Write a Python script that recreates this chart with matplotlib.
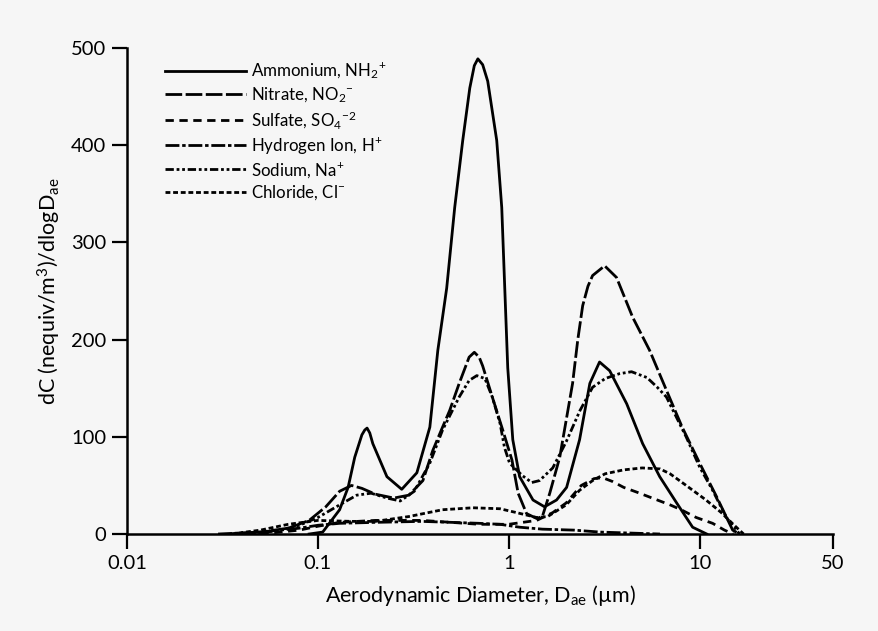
import numpy as np
import matplotlib
matplotlib.use("Agg")
from matplotlib import pyplot as plt

plt.rcParams['font.family'] = ['Lato', 'DejaVu Sans']
plt.rcParams['mathtext.fontset'] = 'custom'
plt.rcParams['mathtext.rm'] = 'Lato'
plt.rcParams['mathtext.default'] = 'regular'
plt.rcParams['lines.scale_dashes'] = False

# values: aerodynamic diameter (um) and dC/dlogDae
nh4_x = [0.09, 0.106, 0.130, 0.144, 0.156, 0.170, 0.176, 0.181, 0.187, 0.194, 0.230, 0.275, 0.330,
         0.386, 0.425, 0.473, 0.521, 0.574, 0.625, 0.660, 0.689, 0.730, 0.776, 0.865, 0.919, 0.953,
         0.988, 1.05, 1.14, 1.34, 1.54, 1.78, 2.01, 2.35, 2.66, 2.99, 3.38, 4.15, 5.03, 6.18, 7.58,
         9.19, 10.9]
nh4_y = [0, 2, 25, 48, 79, 102, 107, 109, 104, 93, 59, 46, 63,
         110, 189, 253, 336, 405, 459, 482, 489, 483, 466, 405, 336, 253,
         171, 97, 59, 35, 28, 35, 48, 97, 155, 177, 168, 134, 93, 59, 32,
         7, 0]

no3_x = [0.035, 0.05, 0.07, 0.09, 0.11, 0.13, 0.15, 0.17, 0.2, 0.25, 0.3, 0.355, 0.40, 0.45, 0.49,
         0.55, 0.62, 0.66, 0.70, 0.73, 0.82, 0.93, 1.04, 1.12, 1.24, 1.40, 1.50, 1.64, 1.85, 2.16,
         2.30, 2.44, 2.60, 2.75, 3.18, 3.67, 4.46, 5.47, 6.7, 8.1, 10, 12.3, 14.9, 16.2]
no3_y = [0, 2, 6, 14, 28, 44, 50, 47, 41, 37, 40, 55, 86, 110, 127,
         155, 182, 187, 182, 173, 141, 107, 76, 42, 21, 16, 18, 42, 79, 155,
         200, 235, 255, 266, 276, 264, 223, 189, 148, 110, 73, 38, 4, 0]

so4_x = [0.05, 0.08, 0.1, 0.13, 0.2, 0.35, 0.5, 0.7, 1.0, 1.4, 1.7, 2.0, 2.4, 2.8, 3.1, 3.5,
         4.0, 4.7, 6.0, 7.0, 8.0, 9.6, 11.7, 13.5, 15]
so4_y = [0, 4, 8, 12, 14, 14, 12, 10, 10, 14, 22, 32, 50, 57, 58, 54,
         48, 43, 35, 30, 25, 17, 11, 4, 0]

h_x = [0.03, 0.05, 0.08, 0.1, 0.13, 0.2, 0.35, 0.5, 0.7, 0.9, 1.14, 1.5, 2.2, 3.0, 4.3, 6.2]
h_y = [0, 2, 6, 9, 11, 12, 13, 12, 11, 10, 7, 5, 4, 2, 1, 0]

na_x = [0.04, 0.06, 0.08, 0.1, 0.13, 0.16, 0.19, 0.23, 0.27, 0.32, 0.386, 0.45, 0.55, 0.62, 0.68,
        0.75, 0.82, 0.90, 0.95, 1.01, 1.18, 1.32, 1.45, 1.70, 2.0, 2.36, 2.75, 3.2, 3.8, 4.4,
        5.3, 6.0, 6.7, 8.5, 10, 11.7, 13.8, 16.2]
na_y = [0, 3, 9, 17, 30, 40, 42, 37, 34, 44, 73, 107, 141, 158, 163,
        160, 141, 114, 89, 73, 60, 53, 55, 68, 95, 127, 151, 160, 165, 167,
        161, 151, 141, 100, 69, 45, 17, 0]

cl_x = [0.035, 0.05, 0.07, 0.1, 0.15, 0.2, 0.3, 0.45, 0.65, 0.9, 1.1, 1.4, 1.6, 2.0, 2.35, 2.75,
        3.2, 4.0, 5.0, 6.2, 7.0, 8.5, 10.8, 13, 15, 17]
cl_y = [0, 4, 10, 14, 13, 13, 18, 25, 27, 26, 22, 17, 18, 30, 45, 55,
        62, 66, 68, 67, 62, 50, 35, 22, 10, 0]

x_ticks = [0.01, 0.1, 1, 10, 50]
x_tick_labels = ["0.01", "0.1", "1", "10", "50"]
y_ticks = [0, 100, 200, 300, 400, 500]

fig = plt.figure(figsize=(8.79, 6.31), dpi=100)
fig.patch.set_facecolor('#f6f6f6')
ax = fig.add_axes([0.1445, 0.1537, 0.8032, 0.770])
ax.set_facecolor('#f6f6f6')

lw = 2.0
ax.plot(nh4_x, nh4_y, color='black', lw=lw, ls='-', label='Ammonium, NH$_2$$^{+}$')
ax.plot(no3_x, no3_y, color='black', lw=lw, ls=(0, (12, 2.5)), label='Nitrate, NO$_2$$^{-}$')
ax.plot(so4_x, so4_y, color='black', lw=lw, ls=(0, (6, 4)), label='Sulfate, SO$_4$$^{-2}$')
ax.plot(h_x, h_y, color='black', lw=lw, ls=(0, (10, 2, 2.5, 2)), label='Hydrogen Ion, H$^{+}$')
ax.plot(na_x, na_y, color='black', lw=lw, ls=(0, (6, 2, 2, 2, 2, 2)), label='Sodium, Na$^{+}$')
ax.plot(cl_x, cl_y, color='black', lw=lw, ls=(0, (3.5, 2)), label='Chloride, Cl$^{-}$')

ax.set_xscale('log')
ax.set_xlim(0.01, 50)
ax.set_ylim(0, 500)
ax.set_xticks(x_ticks)
ax.set_xticklabels(x_tick_labels)
ax.xaxis.set_minor_locator(matplotlib.ticker.NullLocator())
ax.set_yticks(y_ticks)
ax.tick_params(axis='both', direction='out', length=11, width=1.6, labelsize=14.5, pad=4)

for s in ['top', 'right']:
    ax.spines[s].set_visible(False)
for s in ['left', 'bottom']:
    ax.spines[s].set_linewidth(1.8)

ax.set_xlabel('Aerodynamic Diameter, D$_{ae}$ (µm)', fontsize=15.5, labelpad=8)
ax.set_ylabel('dC (nequiv/m$^3$)/dlogD$_{ae}$', fontsize=15.5, labelpad=6)

ax.legend(loc='upper left', bbox_to_anchor=(165 / 879, 1 - 61 / 631), bbox_transform=fig.transFigure,
          frameon=False, fontsize=12.2, handlelength=4.8, handletextpad=0.3, labelspacing=0.24,
          borderpad=0, borderaxespad=0)

fig.savefig('out.png', dpi=100, facecolor=fig.get_facecolor())
